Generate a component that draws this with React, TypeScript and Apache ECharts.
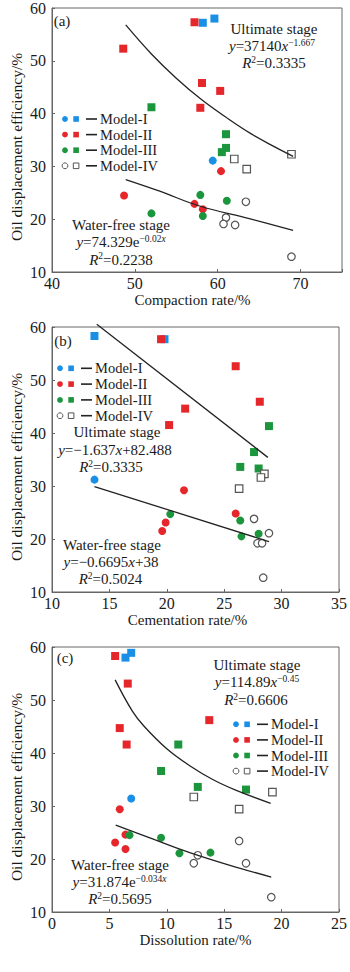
import React, { useEffect, useRef } from 'react';
import * as echarts from 'echarts';

const FONT = 'Liberation Serif, Times New Roman, serif';
const BLUE = '#1a8fe6';
const RED = '#e5262b';
const GREEN = '#1b963c';
const GRAY = '#555555';
const AXIS = '#666666';
const INK = '#1a1a1a';

// tick labels
const yTicks = [10, 20, 30, 40, 50, 60];
const compactionTicks = [40, 50, 60, 70];
const cementationTicks = [10, 15, 20, 25, 30, 35];
const dissolutionTicks = [0, 5, 10, 15, 20, 25];

const modelNames = ['Model-I', 'Model-II', 'Model-III', 'Model-IV'];
const yTitle = 'Oil displacement efficiency/%';

// (a) compaction rate — water-free stage (circles)
const aWfI = [[59.4, 31.1]];
const aWfII = [[60.4, 29.1], [48.7, 24.5], [57.2, 22.9], [58.2, 21.9]];
const aWfIII = [[57.9, 24.6], [61.1, 23.5], [52.0, 21.1], [58.2, 20.6]];
const aWfIV = [[63.4, 23.3], [61.0, 20.3], [60.7, 19.1], [62.1, 18.9], [68.9, 12.9]];
// (a) ultimate stage (squares)
const aUlI = [[58.2, 57.2], [59.6, 58.0]];
const aUlII = [[57.2, 57.3], [48.6, 52.3], [58.1, 45.8], [60.3, 44.3], [57.9, 41.1]];
const aUlIII = [[52.0, 41.2], [61.0, 36.1], [61.0, 33.5], [60.5, 32.7]];
const aUlIV = [[62.0, 31.4], [63.5, 29.5], [68.9, 32.3]];
const aUlTrend = [[48.9, 56.8], [52, 51.3], [55, 46.7], [58, 42.7], [61, 39.3], [64, 36.2], [67, 33.6], [69.1, 31.9]];
const aWfTrend = [[48.9, 27.5], [53, 25.3], [57.8, 22.5], [63.8, 20.1], [69.1, 17.9]];

// (b) cementation rate
const bWfI = [[13.7, 31.2]];
const bWfII = [[21.5, 29.2], [26.0, 24.8], [19.9, 23.1], [19.6, 21.5]];
const bWfIII = [[20.3, 24.7], [26.4, 23.5], [28.0, 21.0], [26.5, 20.5]];
const bWfIV = [[27.6, 23.8], [28.9, 21.1], [27.9, 19.2], [28.3, 19.2], [28.4, 12.7]];
const bUlI = [[13.7, 58.3], [19.8, 57.7]];
const bUlII = [[19.5, 57.7], [26.0, 52.6], [28.1, 45.9], [21.6, 44.6], [20.2, 41.5]];
const bUlIII = [[28.9, 41.3], [27.6, 36.4], [26.4, 33.6], [28.0, 33.3]];
const bUlIV = [[28.5, 32.3], [28.2, 31.6], [26.3, 29.5]];
const bUlTrend = [[13.9, 60.5], [28.8, 35.4]];
const bWfTrend = [[13.7, 29.9], [28.9, 19.5]];

// (c) dissolution rate
const cWfI = [[6.9, 31.4]];
const cWfII = [[5.9, 29.4], [6.4, 24.6], [5.5, 23.1], [6.4, 21.9]];
const cWfIII = [[6.75, 24.5], [9.5, 24.0], [11.1, 21.1], [13.8, 21.2]];
const cWfIV = [[16.3, 23.4], [12.7, 20.7], [12.35, 19.2], [16.9, 19.2], [19.1, 12.8]];
const cUlI = [[6.4, 58.0], [6.9, 58.9]];
const cUlII = [[5.5, 58.3], [6.6, 53.1], [5.9, 44.7], [6.5, 41.6], [13.7, 46.2]];
const cUlIII = [[11.0, 41.6], [9.5, 36.6], [12.7, 33.6], [16.9, 33.1]];
const cUlIV = [[12.35, 31.7], [19.2, 32.6], [16.3, 29.4]];
const cUlTrend = [[5.5, 53.8], [7, 47.9], [8, 45.1], [10, 40.8], [12, 37.6], [14, 35.0], [16, 33.0], [19.05, 30.5]];
const cWfTrend = [[5.55, 26.4], [9, 23.6], [12, 21.2], [15.5, 18.8], [19.1, 16.6]];

const COLORS = [BLUE, RED, GREEN, null];

function scatter(gi: number, data: number[][], mi: number, square: boolean) {
  const c = COLORS[mi];
  return {
    type: 'scatter',
    xAxisIndex: gi,
    yAxisIndex: gi,
    data,
    symbol: square ? 'rect' : 'circle',
    symbolSize: c ? 8 : 7.5,
    z: 3,
    itemStyle: c
      ? { color: c, opacity: 1 }
      : { color: '#ffffff', borderColor: GRAY, borderWidth: 1.2, opacity: 1 },
  };
}

function trend(gi: number, data: number[][], smooth: boolean) {
  return {
    type: 'line',
    xAxisIndex: gi,
    yAxisIndex: gi,
    data,
    smooth: smooth ? 0.4 : false,
    symbol: 'none',
    clip: false,
    z: 5,
    lineStyle: { color: '#222222', width: 1.3 },
  };
}

function legendGraphics(x0: number, y0: number, dy: number) {
  const els: any[] = [];
  for (let i = 0; i < 4; i++) {
    const cy = y0 + i * dy;
    const c = COLORS[i];
    const fillStyle = c ? { fill: c } : { fill: '#fff', stroke: GRAY, lineWidth: 1 };
    els.push({ type: 'circle', shape: { cx: x0, cy, r: 2.9 }, style: fillStyle, z: 10 });
    els.push({ type: 'rect', shape: { x: x0 + 8.3, y: cy - 2.8, width: 5.6, height: 5.6 }, style: fillStyle, z: 10 });
    els.push({ type: 'line', shape: { x1: x0 + 21, y1: cy, x2: x0 + 32, y2: cy }, style: { stroke: '#222', lineWidth: 1.6 }, z: 10 });
    els.push({
      type: 'text', x: x0 + 35, y: cy, z: 10,
      style: { text: modelNames[i], fontSize: 14.5, fontFamily: FONT, fill: INK, align: 'left', verticalAlign: 'middle' },
    });
  }
  return els;
}

const RICH = {
  i: { fontStyle: 'italic', fontSize: 15, fontFamily: FONT, fill: INK, lineHeight: 17 },
  s: { fontSize: 9.5, fontFamily: FONT, fill: INK, verticalAlign: 'top', lineHeight: 17 },
  si: { fontSize: 9.5, fontStyle: 'italic', fontFamily: FONT, fill: INK, verticalAlign: 'top', lineHeight: 17 },
  n: { fontSize: 15, fontFamily: FONT, fill: INK, lineHeight: 17 },
};

function label(text: string, x: number, y: number) {
  return {
    type: 'text', x, y, z: 10,
    style: { text, fontSize: 15, fontFamily: FONT, fill: INK, align: 'center', verticalAlign: 'middle', rich: RICH },
  };
}

function rotTitle(y: number) {
  return {
    type: 'text', x: 16, y, rotation: Math.PI / 2, z: 10,
    style: { text: yTitle, fontSize: 15.5, fontFamily: FONT, fill: INK, align: 'center', verticalAlign: 'middle' },
  };
}

const GRID_TOPS = [7, 327, 647];

export default function App() {
  const ref = useRef<HTMLDivElement>(null);
  useEffect(() => {
    if (!ref.current) return;
    const chart = echarts.init(ref.current, null, { renderer: 'svg' });

    const grids = GRID_TOPS.map((t) => ({
      left: 52, width: 290, top: t, height: 265,
      show: true, borderColor: AXIS, borderWidth: 1, backgroundColor: 'transparent',
    }));

    const xDefs = [
      { ticks: compactionTicks, min: 40, max: 75, interval: 10, name: 'Compaction rate/%', padR: 9 },
      { ticks: cementationTicks, min: 10, max: 35, interval: 5, name: 'Cementation rate/%', padR: 16 },
      { ticks: dissolutionTicks, min: 0, max: 25, interval: 5, name: 'Dissolution rate/%', padR: 0 },
    ];

    const xAxes = xDefs.map((d, gi) => ({
      type: 'value', gridIndex: gi, min: d.min, max: d.max, interval: d.interval,
      name: d.name, nameLocation: 'middle', nameGap: 20,
      nameTextStyle: { fontSize: 15, fontFamily: FONT, color: INK, padding: [0, d.padR, 0, 0] },
      axisLine: { show: true, lineStyle: { color: AXIS, width: 1 } },
      axisTick: { show: true, inside: true, length: 3, lineStyle: { color: AXIS } },
      axisLabel: {
        fontSize: 16, fontFamily: FONT, color: INK, margin: 3,
        formatter: (v: number) => (d.ticks.indexOf(v) >= 0 ? String(v) : ''),
      },
      splitLine: { show: false },
    }));

    const yAxes = [0, 1, 2].map((gi) => ({
      type: 'value', gridIndex: gi, min: yTicks[0], max: yTicks[yTicks.length - 1], interval: 10,
      axisLine: { show: true, lineStyle: { color: AXIS, width: 1 } },
      axisTick: { show: true, inside: true, length: 3, lineStyle: { color: AXIS } },
      axisLabel: {
        fontSize: 16, fontFamily: FONT, color: INK, margin: 6,
        formatter: (v: number) => (yTicks.indexOf(v) >= 0 ? String(v) : ''),
      },
      splitLine: { show: false },
    }));

    const panels = [
      { wf: [aWfI, aWfII, aWfIII, aWfIV], ul: [aUlI, aUlII, aUlIII, aUlIV], ut: aUlTrend, wt: aWfTrend, smooth: true },
      { wf: [bWfI, bWfII, bWfIII, bWfIV], ul: [bUlI, bUlII, bUlIII, bUlIV], ut: bUlTrend, wt: bWfTrend, smooth: false },
      { wf: [cWfI, cWfII, cWfIII, cWfIV], ul: [cUlI, cUlII, cUlIII, cUlIV], ut: cUlTrend, wt: cWfTrend, smooth: true },
    ];

    const series: any[] = [];
    panels.forEach((p, gi) => {
      p.ul.forEach((d, mi) => series.push(scatter(gi, d, mi, true)));
      p.wf.forEach((d, mi) => series.push(scatter(gi, d, mi, false)));
      series.push(trend(gi, p.ut, p.smooth));
      series.push(trend(gi, p.wt, p.smooth));
    });

    const graphic: any[] = [
      rotTitle(147),
      rotTitle(467),
      rotTitle(787),
      ...legendGraphics(65, 119, 15.6),
      ...legendGraphics(60, 368.3, 15.8),
      ...legendGraphics(236, 724.3, 15.6),
      { type: 'text', x: 62, y: 21, z: 10, style: { text: '(a)', fontSize: 15, fontFamily: FONT, fill: INK, align: 'center', verticalAlign: 'middle' } },
      { type: 'text', x: 63, y: 341, z: 10, style: { text: '(b)', fontSize: 15, fontFamily: FONT, fill: INK, align: 'center', verticalAlign: 'middle' } },
      { type: 'text', x: 65, y: 658, z: 10, style: { text: '(c)', fontSize: 15, fontFamily: FONT, fill: INK, align: 'center', verticalAlign: 'middle' } },
      label('Ultimate stage', 274, 29),
      label('{i|y}{n|=37140}{i|x}{s|−1.667}', 272, 46),
      label('{i|R}{s|2}{n|=0.3335}', 274, 63),
      label('Water-free stage', 121, 225),
      label('{i|y}{n|=74.329e}{s|−0.02}{si|x}', 121, 242),
      label('{i|R}{s|2}{n|=0.2238}', 121, 259.5),
      label('Ultimate stage', 117, 432),
      label('{i|y}{n|=−1.637}{i|x}{n|+82.488}', 115, 450),
      label('{i|R}{s|2}{n|=0.3335}', 111, 467),
      label('Water-free stage', 112, 545),
      label('{i|y}{n|=−0.6695}{i|x}{n|+38}', 111, 562),
      label('{i|R}{s|2}{n|=0.5024}', 110.5, 579),
      label('Ultimate stage', 257, 665),
      label('{i|y}{n|=114.89}{i|x}{s|−0.45}', 257, 682),
      label('{i|R}{s|2}{n|=0.6606}', 256, 700),
      label('Water-free stage', 120, 865),
      label('{i|y}{n|=31.874e}{s|−0.034}{si|x}', 119.5, 882),
      label('{i|R}{s|2}{n|=0.5695}', 120, 899),
    ];

    chart.setOption({
      animation: false,
      backgroundColor: '#ffffff',
      grid: grids,
      xAxis: xAxes,
      yAxis: yAxes,
      series,
      graphic,
    });
    return () => chart.dispose();
  }, []);

  return <div ref={ref} style={{ position: 'absolute', left: 0, top: 0, width: 350, height: 972 }} />;
}
